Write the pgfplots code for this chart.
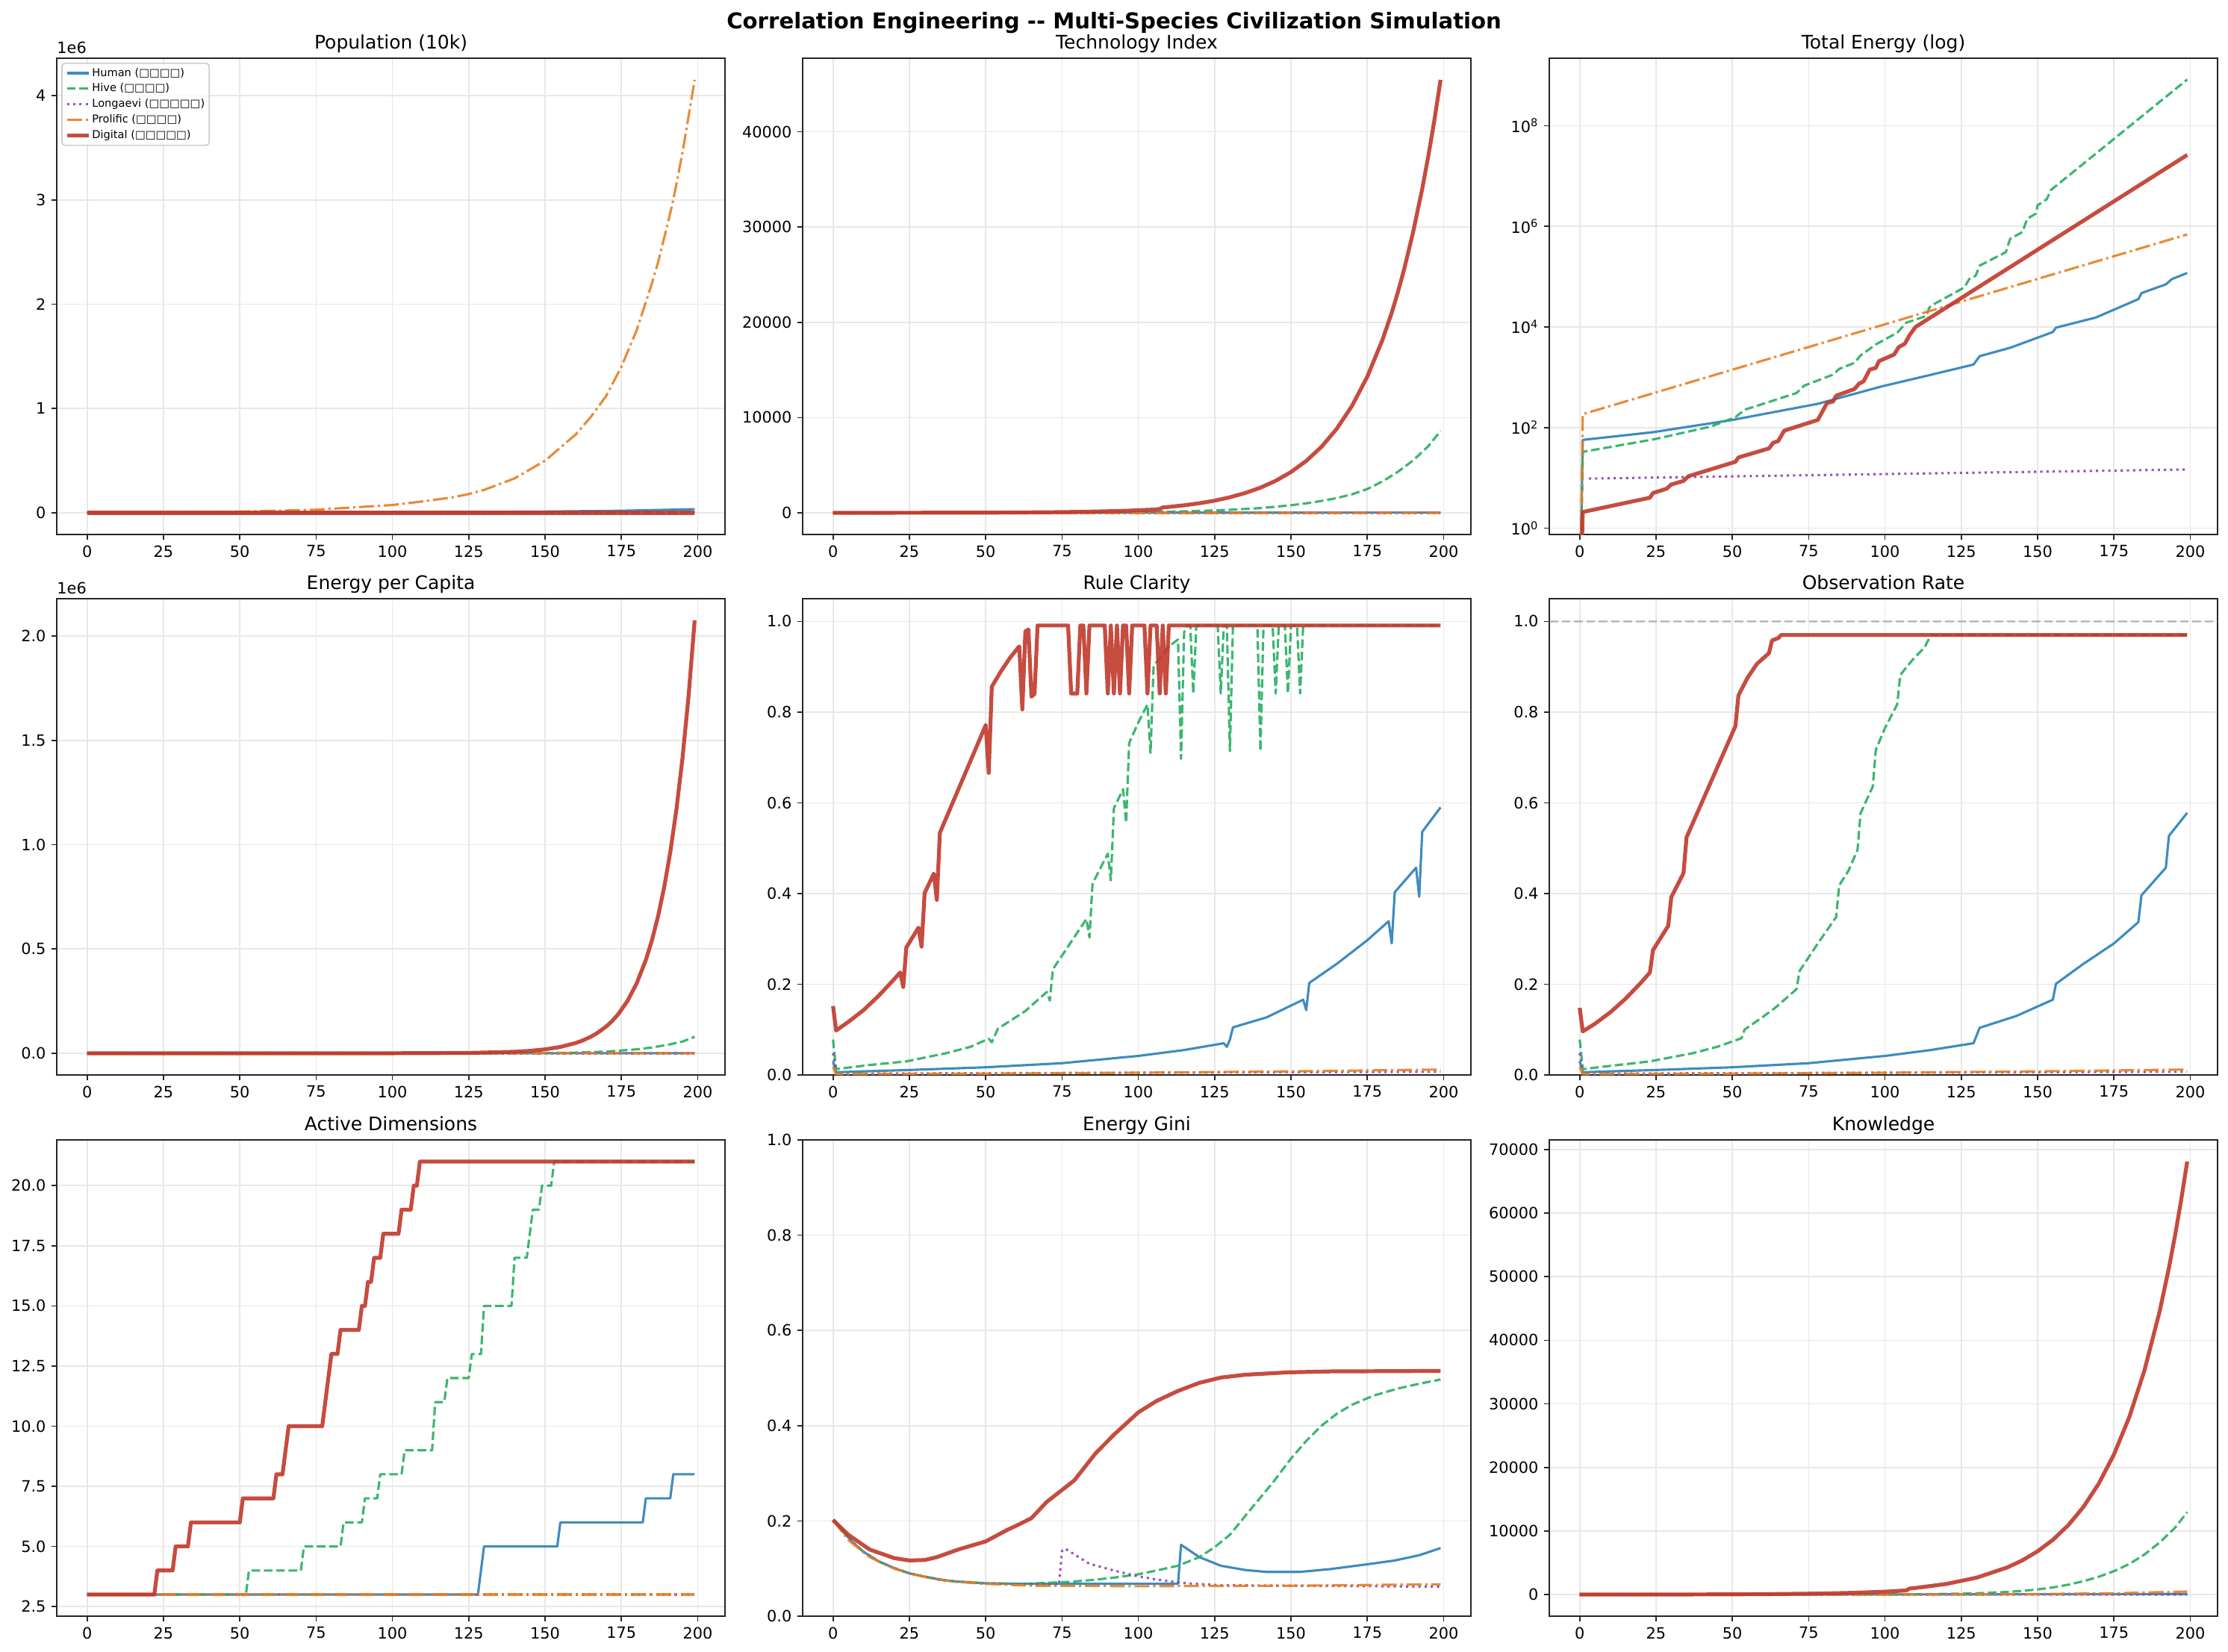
\documentclass[border=0pt]{standalone}
\usepackage{fontspec}
\setmainfont{DejaVu Sans}
\usepackage{pgfplots}
\pgfplotsset{compat=1.18}
\definecolor{cH}{HTML}{2980B9}
\definecolor{cG}{HTML}{27AE60}
\definecolor{cP}{HTML}{8E44AD}
\definecolor{cO}{HTML}{E67E22}
\definecolor{cR}{HTML}{C0392B}
\tikzset{offs/.style={font=\fontsize{10}{12}\selectfont, anchor=south west, inner sep=0pt, yshift=3pt}}
\pgfplotsset{
  every axis title/.style={at={(0.5,1)}, anchor=base, yshift=6pt, inner sep=0pt, font=\fontsize{12}{14}\selectfont},
  panel/.style={
    scale only axis, width=429.6pt, height=306.24pt, anchor=north west,
    xmin=-9.95, xmax=208.95, xtick={0,25,...,200},
    grid=major, major grid style={black!9, line width=0.8pt},
    axis line style={line width=1pt, black!85},
    tick align=outside, major tick length=3.5pt,
    tick style={line width=0.8pt, black!85},
    xtick pos=bottom, ytick pos=left,
    tick label style={font=\fontsize{10}{12}\selectfont},
    /pgf/number format/assume math mode=true,
    /pgf/number format/1000 sep={},
    scaled ticks=false,
    legend image code/.code={\draw[##1] (0pt,0pt) -- (14pt,0pt);},
  },
  hum/.style={color=cH, line width=1.5pt, opacity=0.9, mark=none, line join=round},
  hiv/.style={color=cG, line width=1.5pt, opacity=0.9, mark=none, line join=round, dash pattern=on 5.55pt off 2.4pt},
  lon/.style={color=cP, line width=1.5pt, opacity=0.9, mark=none, line join=round, dash pattern=on 1.5pt off 2.475pt},
  pro/.style={color=cO, line width=1.5pt, opacity=0.9, mark=none, line join=round, dash pattern=on 9.6pt off 2.4pt on 1.5pt off 2.4pt},
  dig/.style={color=cR, line width=2.5pt, opacity=0.9, mark=none, line join=round},
  onedec/.style={yticklabel style={/pgf/number format/.cd, fixed, fixed zerofill, precision=1}},
}
\begin{document}
\begin{tikzpicture}
\path[use as bounding box] (0,0) rectangle (1432.3pt,-1061.8pt);
\node[font=\bfseries\fontsize{14}{17}\selectfont] at (716.2pt,-14.5pt) {Correlation Engineering -{}- Multi-Species Civilization Simulation};

% ---------------- Population
\begin{axis}[panel, name=pop, at={(36.5pt,-37.44pt)}, title={Population (10k)},
  ymin=-0.2075, ymax=4.357, ytick={0,1,2,3,4},
  legend cell align=left,
  legend style={at={(0.0068,0.9905)}, anchor=north west, font=\fontsize{7}{8}\selectfont,
    draw=black!20, line width=0.8pt, rounded corners=2pt, fill=white, fill opacity=0.8, text opacity=1,
    inner xsep=2pt, inner ysep=2pt, row sep=1.4pt, nodes={inner sep=0.9pt}}]
\addplot[hum] coordinates {(0,0.001) (25,0.0015) (50,0.002) (75,0.003) (100,0.005) (125,0.008) (150,0.012) (175,0.020) (199,0.035)};
\addlegendentry{Human (□□□□)}
\addplot[hiv] coordinates {(0,0.0005) (100,0.001) (150,0.002) (199,0.008)};
\addlegendentry{Hive (□□□□)}
\addplot[lon] coordinates {(0,0) (199,0.0005)};
\addlegendentry{Longaevi (□□□□□)}
\addplot[pro] coordinates {(0,0.001) (25,0.004) (50,0.011) (75,0.030) (100,0.075) (110,0.11) (120,0.15) (125,0.18) (130,0.22) (140,0.33) (150,0.50) (160,0.75) (165,0.92) (170,1.12) (175,1.40) (180,1.75) (185,2.20) (187,2.40) (190,2.75) (192,3.00) (195,3.45) (197,3.80) (199,4.15)};
\addlegendentry{Prolific (□□□□)}
\addplot[dig] coordinates {(0,0) (199,0)};
\addlegendentry{Digital (□□□□□)}
\end{axis}
\node[offs] at (pop.north west) {1e6};

% ---------------- Technology Index
\begin{axis}[panel, at={(516pt,-37.44pt)}, title={Technology Index},
  ymin=-2272, ymax=47712, ytick={0,10000,20000,30000,40000}]
\addplot[hum] coordinates {(0,0) (199,30)};
\addplot[hiv] coordinates {(0,0) (50,5) (80,25) (100,70) (110,120) (120,200) (130,320) (140,500) (145,640) (150,800) (155,1000) (160,1250) (165,1550) (170,1950) (175,2500) (180,3300) (185,4300) (190,5500) (195,7000) (199,8600)};
\addplot[lon] coordinates {(0,0) (199,0)};
\addplot[pro] coordinates {(0,0) (199,5)};
\addplot[dig] coordinates {(0,1) (50,20) (70,60) (80,100) (90,166) (95,210) (100,270) (102,300) (105,340) (107,400) (108,560) (110,623) (115,790) (120,1008) (125,1280) (130,1633) (135,2080) (140,2644) (145,3365) (150,4281) (155,5448) (160,6933) (165,8822) (170,11230) (175,14290) (180,18180) (183,21000) (185,23130) (187,25470) (190,29440) (193,34010) (195,37460) (197,41250) (199,45440)};
\end{axis}

% ---------------- Total Energy (log)
\begin{axis}[panel, at={(996pt,-37.44pt)}, title={Total Energy (log)},
  ymode=log, ymin=0.75, ymax=2.2e9, ytick={1,100,10000,1000000,100000000},
  yticklabels={10\textsuperscript{0},10\textsuperscript{2},10\textsuperscript{4},10\textsuperscript{6},10\textsuperscript{8}},
  minor ytick={}]
\addplot[hum] coordinates {(0,0.01) (1,57) (24,81) (43,122) (50,142) (78,297) (99,661) (113,1047) (129,1791) (131,2630) (141,3861) (155,7943) (156,9700) (169,15380) (183,35730) (184,47100) (192,70300) (194,89800) (199,118400)};
\addplot[hiv] coordinates {(0,0.01) (1,33) (24,58) (43,105) (51,161) (54,226) (71,486) (73.5,681) (83,1130) (85,1469) (90,1936) (92,2713) (97,4500) (104,7709) (107,12210) (113.6,16600) (114.5,24370) (116,28400) (126,61200) (127.6,89800) (129.7,104700) (131,166000) (139.6,307000) (141,566000) (145,771000) (146.6,1420000) (149.4,1790000) (150,2630000) (153,3470000) (154.3,5250000) (199,830000000)};
\addplot[lon] coordinates {(3,9.7) (199,14.7)};
\addplot[pro] coordinates {(0,0.01) (1,185) (100,11300) (199,692000)};
\addplot[dig] coordinates {(0,0.01) (1,2.1) (23,4.04) (24,5.0) (28.5,6.1) (30,7.4) (34,8.7) (35.6,10.8) (51,20.9) (52,25.5) (62,38.6) (63.4,50) (65,54) (67,87) (78,142) (81,307) (83,331) (84,430) (90,584) (91.5,747) (93,832) (95,1423) (97,1538) (98,2089) (103,2840) (104.5,3981) (106.5,4642) (108,6808) (110,10000) (199,26300000)};
\end{axis}

% ---------------- Energy per Capita
\begin{axis}[panel, onedec, name=epc, at={(36.5pt,-384.96pt)}, title={Energy per Capita},
  ymin=-0.104, ymax=2.179, ytick={0,0.5,1,1.5,2}]
\addplot[hum] coordinates {(0,0) (199,0.0005)};
\addplot[hiv] coordinates {(0,0) (150,0.001) (160,0.003) (170,0.008) (180,0.019) (185,0.028) (190,0.040) (195,0.056) (199,0.079)};
\addplot[lon] coordinates {(0,0) (199,0)};
\addplot[pro] coordinates {(0,0) (199,0.0002)};
\addplot[dig] coordinates {(0,0) (100,0.0002) (125,0.0017) (140,0.0072) (145,0.0116) (150,0.0188) (155,0.0304) (160,0.0491) (162,0.0595) (165,0.0793) (167,0.0961) (170,0.128) (172,0.155) (174,0.188) (177,0.251) (180,0.335) (183,0.447) (185,0.541) (187,0.656) (189,0.795) (191,0.963) (193,1.166) (195,1.413) (197,1.712) (199,2.075)};
\end{axis}
\node[offs] at (epc.north west) {1e6};

% ---------------- Rule Clarity
\begin{axis}[panel, onedec, at={(516pt,-384.96pt)}, title={Rule Clarity},
  ymin=0, ymax=1.05, ytick={0,0.2,0.4,0.6,0.8,1}]
\addplot[hum] coordinates {(0,0.030) (1,0.006) (10,0.008) (25,0.011) (50,0.017) (75,0.026) (100,0.042) (115,0.055) (128,0.070) (129,0.062) (130,0.078) (131,0.105) (142,0.127) (154,0.166) (155,0.143) (156,0.203) (165,0.245) (175,0.297) (182,0.339) (183,0.290) (184,0.403) (191,0.457) (192,0.393) (193,0.536) (199,0.590)};
\addplot[hiv] coordinates {(0,0.078) (1,0.013) (12,0.022) (24,0.030) (37,0.048) (45,0.062) (51,0.080) (52,0.072) (54,0.102) (63,0.141) (70,0.183) (71,0.164) (72,0.233) (83,0.344) (84,0.303) (85,0.422) (90,0.488) (91,0.429) (92,0.588) (95,0.630) (96,0.556) (97,0.732) (100,0.777) (103,0.817) (104,0.710) (105,0.902) (110,0.945) (113,0.960) (114,0.697) (115,0.976) (116,0.991) (117,0.991) (118,0.841) (119,0.991) (126,0.991) (127,0.841) (128,0.991) (129,0.991) (130,0.714) (131,0.991) (139,0.991) (140,0.714) (141,0.991) (144,0.991) (145,0.841) (146,0.991) (148,0.991) (149,0.841) (150,0.991) (152,0.991) (153,0.841) (154,0.991) (199,0.991)};
\addplot[lon] coordinates {(0,0.048) (1,0.003) (100,0.005) (199,0.007)};
\addplot[pro] coordinates {(0,0.018) (1,0.002) (50,0.003) (100,0.005) (150,0.008) (199,0.012)};
\addplot[dig] coordinates {(0,0.152) (1,0.098) (5,0.117) (10,0.143) (15,0.175) (20,0.211) (22,0.226) (23,0.194) (24,0.281) (28,0.325) (29,0.283) (30,0.401) (33,0.444) (34,0.386) (35,0.534) (50,0.771) (51,0.666) (52,0.856) (55,0.890) (58,0.920) (61,0.945) (62,0.806) (63,0.978) (64,0.982) (65,0.834) (66,0.840) (67,0.991) (77,0.991) (78,0.841) (80,0.841) (81,0.991) (82,0.991) (83,0.841) (84,0.991) (89,0.991) (90,0.841) (91,0.991) (92,0.841) (93,0.991) (94,0.841) (95,0.991) (96,0.991) (97,0.841) (98,0.991) (102,0.991) (103,0.841) (104,0.991) (106,0.991) (107,0.841) (108,0.991) (109,0.841) (110,0.991) (199,0.991)};
\end{axis}

% ---------------- Observation Rate
\begin{axis}[panel, onedec, at={(996pt,-384.96pt)}, title={Observation Rate},
  ymin=0, ymax=1.05, ytick={0,0.2,0.4,0.6,0.8,1}]
\addplot[gray, opacity=0.45, line width=1.5pt, dash pattern=on 5.55pt off 2.4pt] coordinates {(-9.95,1) (208.95,1)};
\addplot[hum] coordinates {(0,0.030) (1,0.006) (10,0.008) (25,0.011) (50,0.017) (75,0.026) (100,0.042) (115,0.055) (129,0.070) (131,0.104) (143,0.130) (155,0.166) (156,0.201) (165,0.245) (175,0.290) (183,0.337) (184,0.396) (192,0.457) (193,0.527) (199,0.578)};
\addplot[hiv] coordinates {(0,0.078) (1,0.013) (10,0.020) (23,0.030) (37,0.048) (45,0.062) (53,0.081) (54,0.100) (60,0.128) (64,0.148) (71,0.189) (72,0.229) (78,0.290) (84,0.348) (85,0.418) (88,0.450) (91,0.496) (92,0.577) (96,0.636) (97,0.717) (100,0.765) (104,0.817) (105,0.882) (109,0.915) (113,0.943) (115,0.970) (199,0.970)};
\addplot[lon] coordinates {(0,0.048) (1,0.003) (100,0.005) (199,0.007)};
\addplot[pro] coordinates {(0,0.018) (1,0.002) (50,0.003) (100,0.005) (150,0.008) (199,0.012)};
\addplot[dig] coordinates {(0,0.148) (1,0.096) (5,0.113) (10,0.138) (15,0.168) (20,0.203) (23,0.226) (24,0.275) (29,0.329) (30,0.392) (34,0.445) (35,0.524) (51,0.769) (52,0.837) (55,0.876) (58,0.906) (62,0.930) (63,0.958) (65,0.963) (66,0.970) (199,0.970)};
\end{axis}

% ---------------- Active Dimensions
\begin{axis}[panel, onedec, at={(36.5pt,-732.96pt)}, title={Active Dimensions},
  ymin=2.1, ymax=21.9, ytick={2.5,5,7.5,10,12.5,15,17.5,20}]
\addplot[hum] coordinates {(0,3) (128,3) (130,5) (154,5) (155,6) (182,6) (183,7) (191,7) (192,8) (199,8)};
\addplot[hiv] coordinates {(0,3) (52,3) (53,4) (70,4) (71,5) (83,5) (84,6) (90,6) (91,7) (95,7) (96,8) (103,8) (104,9) (113,9) (114,11) (117,11) (118,12) (125,12) (126,13) (129,13) (130,15) (139,15) (140,17) (144,17) (146,19) (148,19) (149,20) (152,20) (153,21) (199,21)};
\addplot[lon] coordinates {(0,3) (199,3)};
\addplot[pro] coordinates {(0,3) (199,3)};
\addplot[dig] coordinates {(0,3) (22,3) (23,4) (28,4) (29,5) (33,5) (34,6) (50,6) (51,7) (61,7) (62,8) (64,8) (66,10) (77,10) (80,13) (82,13) (83,14) (89,14) (90,15) (91,15) (92,16) (93,16) (94,17) (96,17) (97,18) (102,18) (103,19) (106,19) (107,20) (108,20) (109,21) (199,21)};
\end{axis}

% ---------------- Energy Gini
\begin{axis}[panel, onedec, at={(516pt,-732.96pt)}, title={Energy Gini},
  ymin=0, ymax=1, ytick={0,0.2,0.4,0.6,0.8,1}]
\addplot[hum] coordinates {(0,0.202) (3,0.180) (6,0.158) (10,0.135) (15,0.115) (20,0.101) (25,0.090) (30,0.083) (35,0.077) (40,0.073) (45,0.071) (50,0.069) (60,0.068) (80,0.068) (113,0.068) (114,0.150) (120,0.124) (127,0.106) (135,0.097) (142,0.093) (153,0.093) (163,0.099) (175,0.109) (184,0.117) (192,0.128) (199,0.143)};
\addplot[hiv] coordinates {(0,0.202) (3,0.180) (6,0.158) (10,0.135) (15,0.115) (20,0.101) (25,0.090) (30,0.083) (35,0.077) (40,0.073) (45,0.071) (50,0.069) (63,0.068) (77,0.072) (85,0.076) (92,0.081) (100,0.088) (106,0.096) (113,0.106) (120,0.124) (125,0.145) (130,0.171) (137,0.226) (144,0.280) (150,0.331) (155,0.368) (160,0.400) (165,0.425) (170,0.444) (177,0.463) (185,0.478) (192,0.488) (199,0.497)};
\addplot[lon] coordinates {(0,0.202) (3,0.180) (6,0.158) (10,0.135) (15,0.115) (20,0.101) (25,0.090) (30,0.083) (35,0.077) (40,0.073) (45,0.071) (50,0.069) (60,0.067) (74,0.066) (75,0.137) (76,0.142) (84,0.110) (92,0.096) (99,0.085) (106,0.077) (114,0.070) (127,0.065) (199,0.062)};
\addplot[pro] coordinates {(0,0.202) (5,0.160) (12,0.124) (20,0.100) (25,0.090) (34,0.077) (41,0.072) (50,0.068) (65,0.064) (100,0.063) (150,0.064) (199,0.067)};
\addplot[dig] coordinates {(0,0.202) (5,0.171) (12,0.140) (20,0.122) (25,0.117) (30,0.118) (34,0.124) (41,0.140) (50,0.157) (57,0.181) (61,0.193) (65,0.206) (70,0.240) (79,0.285) (86,0.342) (92,0.381) (100,0.428) (106,0.452) (113,0.473) (120,0.490) (127,0.501) (135,0.507) (149,0.512) (163,0.514) (199,0.515)};
\end{axis}

% ---------------- Knowledge
\begin{axis}[panel, at={(996pt,-732.96pt)}, title={Knowledge},
  ymin=-3405, ymax=71505, ytick={0,10000,20000,30000,40000,50000,60000,70000}]
\addplot[hum] coordinates {(0,0) (100,20) (150,50) (199,100)};
\addplot[hiv] coordinates {(0,0) (100,25) (110,50) (120,100) (130,200) (140,410) (145,580) (150,810) (155,1120) (160,1550) (165,2100) (170,2800) (175,3680) (180,4800) (185,6300) (190,8200) (195,10500) (199,12970)};
\addplot[lon] coordinates {(0,0) (199,10)};
\addplot[pro] coordinates {(0,0) (100,10) (125,30) (150,80) (175,200) (199,480)};
\addplot[dig] coordinates {(0,0) (40,20) (60,60) (80,170) (90,280) (100,450) (107,650) (108,950) (110,1039) (120,1661) (130,2658) (140,4254) (145,5380) (150,6805) (155,8610) (160,10890) (165,13780) (170,17430) (175,22040) (180,27880) (185,35270) (190,44610) (193,51360) (195,56430) (197,62000) (199,68100)};
\end{axis}
\end{tikzpicture}
\end{document}
